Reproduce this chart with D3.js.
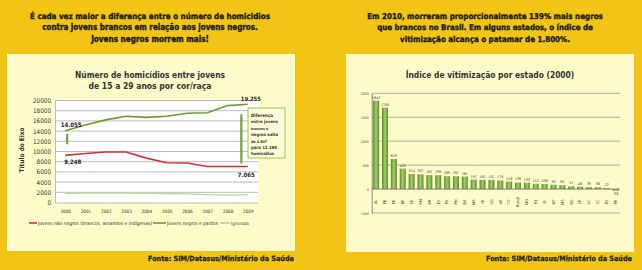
<!DOCTYPE html>
<html>
<head>
<meta charset="utf-8">
<script src="https://cdn.jsdelivr.net/npm/d3@7"></script>
<style>
  html, body { margin: 0; padding: 0; background: #f2c414; }
  svg { display: block; }
</style>
</head>
<body>
<script>
// left chart data
var years = [2000, 2001, 2002, 2003, 2004, 2005, 2006, 2007, 2008, 2009];
var naoNegros = [9248, 9600, 9900, 9900, 8700, 7800, 7750, 7050, 7050, 7065];
var negros = [14055, 15200, 16200, 16900, 16700, 16900, 17500, 17600, 19000, 19255];
var ignorado = [1800, 1850, 1850, 1850, 1800, 1750, 1700, 1550, 1450, 1550];
var leftTicks = [0, 2000, 4000, 6000, 8000, 10000, 12000, 14000, 16000, 18000, 20000];

// right chart data
var estados = ["AL", "PB", "PE", "DF", "SE", "AM", "RR", "ES", "PA", "RN", "BA", "MA", "CE", "GO",
    "AP", "TO", "Brasil", "MG", "RJ", "PI", "MT", "MS", "RO", "SP", "AC", "SC", "RS", "PR"];
var indice = [1847, 1700, 629, 428, 314, 307, 292, 289, 269, 267, 261, 197, 192, 192,
    179, 156, 138, 133, 112, 106, 90, 80, 57, 48, 39, 36, 22, -36];
var rightTicks = [-500, 0, 500, 1000, 1500, 2000];

var width = 642, height = 270;
var cream = '#fffcc9';
var headFont = '"Liberation Sans Narrow", "DejaVu Sans Condensed", sans-serif';
var bodyFont = '"DejaVu Sans Condensed", "DejaVu Sans", sans-serif';

var svg = d3.select('body').append('svg')
    .attr('width', width)
    .attr('height', height);

svg.append('rect').attr('width', width).attr('height', height).attr('fill', '#f2c414');

// gradient for the bars
var grad = svg.append('defs').append('linearGradient')
    .attr('id', 'barGrad').attr('x1', '0%').attr('x2', '100%').attr('y1', '0%').attr('y2', '0%');
grad.append('stop').attr('offset', '0%').attr('stop-color', '#5a8a2a');
grad.append('stop').attr('offset', '50%').attr('stop-color', '#a6cf6c');
grad.append('stop').attr('offset', '100%').attr('stop-color', '#5a8a2a');

// text whose font size is adjusted so it is about w wide
function fitText(g, txt, x, y, w, size, weight, family, color, anchor) {
    var t = g.append('text')
        .attr('x', x).attr('y', y)
        .attr('text-anchor', anchor || 'middle')
        .attr('font-family', family)
        .attr('font-weight', weight)
        .attr('font-size', size)
        .attr('fill', color)
        .text(txt);
    var len = t.node().getComputedTextLength();
    if (len > 0) t.attr('font-size', (size * w / len).toFixed(2));
    return t;
}

// headers
var headLeft = ["É cada vez maior a diferença entre o número de homicidios",
    "contra jovens brancos em relação aos jovens negros.",
    "Jovens negros morrem mais!"];
var headLeftW = [240, 216, 118];
headLeft.forEach(function (t, i) {
    fitText(svg, t, 150, 18.5 + i * 11.7, headLeftW[i], 10.5, 'bold', headFont, '#1e1e1e')
        .attr('stroke', '#1e1e1e').attr('stroke-width', 0.35);
});
var headRight = ["Em 2010, morreram proporcionalmente 139% mais negros",
    "que brancos no Brasil. Em alguns estados, o índice de",
    "vitimização alcança o patamar de 1.800%."];
var headRightW = [236, 216, 170];
headRight.forEach(function (t, i) {
    fitText(svg, t, 485, 18.5 + i * 11.7, headRightW[i], 10.5, 'bold', headFont, '#1e1e1e')
        .attr('stroke', '#1e1e1e').attr('stroke-width', 0.35);
});

// panels
svg.append('rect').attr('x', 7).attr('y', 54).attr('width', 288).attr('height', 197).attr('fill', cream);
svg.append('rect').attr('x', 346).attr('y', 54).attr('width', 288).attr('height', 198).attr('fill', cream);

fitText(svg, 'Fonte: SIM/Datasus/Ministério da Saúde', 294, 261, 146, 8.5, 'bold', headFont, '#262626', 'end')
    .attr('stroke', '#262626').attr('stroke-width', 0.25);
fitText(svg, 'Fonte: SIM/Datasus/Ministério da Saúde', 632, 261, 146, 8.5, 'bold', headFont, '#262626', 'end')
    .attr('stroke', '#262626').attr('stroke-width', 0.25);

// ---------------- left chart ----------------
var L = svg.append('g');

fitText(L, 'Número de homicídios entre jovens', 150, 78, 150, 10, 'bold', bodyFont, '#333');
fitText(L, 'de 15 a 29 anos por cor/raça', 150, 89, 123, 10, 'bold', bodyFont, '#333');

var lx = d3.scalePoint().domain(years).range([55, 258]).padding(0.5);
var ly = d3.scaleLinear().domain([0, 20000]).range([202.5, 100.5]);

L.append('rect').attr('x', 55).attr('y', 100.5).attr('width', 203).attr('height', 102).attr('fill', '#ffffff');

L.append('g').selectAll('line').data(leftTicks.slice(1)).join('line')
    .attr('x1', 55).attr('x2', 258)
    .attr('y1', function (d) { return ly(d); }).attr('y2', function (d) { return ly(d); })
    .attr('stroke', '#bdbdbd').attr('stroke-width', 1);

var lAxisY = L.append('g')
    .attr('transform', 'translate(55,0)')
    .call(d3.axisLeft(ly).tickValues(leftTicks).tickSize(0).tickPadding(4).tickFormat(d3.format('d')));
lAxisY.select('.domain').attr('stroke', '#bdbdbd');
lAxisY.selectAll('text').attr('font-family', bodyFont).attr('font-size', 6.3).attr('fill', '#333');

var lAxisX = L.append('g')
    .attr('transform', 'translate(0,202.5)')
    .call(d3.axisBottom(lx).tickSize(0).tickPadding(7));
lAxisX.select('.domain').attr('stroke', '#bdbdbd');
lAxisX.selectAll('text').attr('font-family', bodyFont).attr('font-size', 4.6).attr('fill', '#333');

L.append('text')
    .attr('transform', 'translate(24,150) rotate(-90)')
    .attr('text-anchor', 'middle')
    .attr('font-family', bodyFont).attr('font-weight', 'bold').attr('font-size', 6.5)
    .attr('fill', '#333')
    .text('Título do Eixo');

var line = d3.line()
    .x(function (d, i) { return lx(years[i]); })
    .y(function (d) { return ly(d); });

var series = [
    { name: 'Jovens não negros (brancos, amarelos e indígenas)', values: naoNegros, color: '#d0343a', w: 1.6 },
    { name: 'Jovens negros e pardos', values: negros, color: '#6e9a34', w: 1.6 },
    { name: 'Ignorado', values: ignorado, color: '#bdd69a', w: 1.4 }
];

L.append('g').selectAll('path').data(series).join('path')
    .attr('d', function (d) { return line(d.values); })
    .attr('fill', 'none')
    .attr('stroke', function (d) { return d.color; })
    .attr('stroke-width', function (d) { return d.w; });

// difference bars
var first = 0, last = years.length - 1;
L.append('line')
    .attr('x1', lx(years[first]) + 2).attr('x2', lx(years[first]) + 2)
    .attr('y1', ly(negros[first]) + 3).attr('y2', ly(naoNegros[first]) - 11)
    .attr('stroke', '#72a33c').attr('stroke-width', 2.2);
L.append('line')
    .attr('x1', lx(years[last]) - 6.5).attr('x2', lx(years[last]) - 6.5)
    .attr('y1', ly(negros[last]) + 10).attr('y2', ly(naoNegros[last]) - 3)
    .attr('stroke', '#72a33c').attr('stroke-width', 2.2);

// value labels
function valLabel(txt, x, y, w) {
    fitText(L, txt, x, y, w, 6.8, 'bold', bodyFont, '#222');
}
valLabel('14.055', lx(years[first]) + 6, ly(negros[first]) - 4, 21);
valLabel('9.248', lx(years[first]) + 7.5, ly(naoNegros[first]) + 9, 17);
valLabel('19.255', lx(years[last]) + 3, ly(negros[last]) - 3.5, 20);
valLabel('7.065', lx(years[last]) - 1.5, ly(naoNegros[last]) + 11, 17);

// annotation box
var note = ['Diferença', 'entre  jovens', 'brancos e', 'negros salta', 'de 4.807', 'para 12.190', 'homicídios'];
var noteW = [22, 27, 17, 27, 16, 26, 23];
L.append('rect').attr('x', 248).attr('y', 108).attr('width', 37).attr('height', 50)
    .attr('fill', '#fffdd8').attr('stroke', '#9bc25b').attr('stroke-width', 1);
note.forEach(function (t, i) {
    fitText(L, t, 251, 117 + i * 6.4, noteW[i], 5.4, 'bold', bodyFont, '#333', 'start');
});

// legend
var legX = [29, 153, 220], legLen = [8, 13, 10], legTextW = [114, 51, 18];
var leg = L.append('g').selectAll('g').data(series).join('g');
leg.append('line')
    .attr('x1', function (d, i) { return legX[i]; })
    .attr('x2', function (d, i) { return legX[i] + legLen[i]; })
    .attr('y1', 223).attr('y2', 223)
    .attr('stroke', function (d) { return d.color; }).attr('stroke-width', 1.6);
leg.each(function (d, i) {
    fitText(d3.select(this), d.name, legX[i] + legLen[i] + 1, 224.7, legTextW[i], 4.6, 'normal', bodyFont, '#333', 'start');
});

// ---------------- right chart ----------------
var R = svg.append('g');

fitText(R, 'Índice de vitimização por estado (2000)', 490, 78, 169, 10, 'bold', bodyFont, '#333');

var rx = d3.scaleBand().domain(estados).range([371.7, 620]).paddingInner(0.32).paddingOuter(0.16);
var ry = d3.scaleLinear().domain([-500, 2000]).range([213, 93.3]);

R.append('g').selectAll('line').data(rightTicks.filter(function (d) { return d !== 0; })).join('line')
    .attr('x1', 371.7).attr('x2', 620)
    .attr('y1', function (d) { return ry(d); }).attr('y2', function (d) { return ry(d); })
    .attr('stroke', '#a8a8a0').attr('stroke-width', 0.9);

var rAxisY = R.append('g')
    .attr('transform', 'translate(371.7,0)')
    .call(d3.axisLeft(ry).tickValues(rightTicks).tickSize(0).tickPadding(3).tickFormat(d3.format('d')));
rAxisY.select('.domain').attr('stroke', '#8a8a80');
rAxisY.selectAll('text').attr('font-family', bodyFont).attr('font-size', 3.6).attr('fill', '#444');

R.append('g').selectAll('rect').data(indice).join('rect')
    .attr('x', function (d, i) { return rx(estados[i]); })
    .attr('y', function (d) { return ry(Math.max(d, 0)); })
    .attr('width', rx.bandwidth())
    .attr('height', function (d) { return Math.abs(ry(d) - ry(0)); })
    .attr('fill', 'url(#barGrad)');

R.append('line').attr('x1', 371.7).attr('x2', 620).attr('y1', ry(0)).attr('y2', ry(0))
    .attr('stroke', '#6f6f68').attr('stroke-width', 0.9);

R.append('g').selectAll('text').data(indice).join('text')
    .attr('x', function (d, i) { return rx(estados[i]) + rx.bandwidth() / 2; })
    .attr('y', function (d) { return d >= 0 ? ry(d) - 2 : ry(d) + 4.5; })
    .attr('text-anchor', 'middle')
    .attr('font-family', bodyFont).attr('font-size', 3.6).attr('fill', '#444')
    .text(function (d) { return d; });

R.append('g').selectAll('text').data(estados).join('text')
    .attr('transform', function (d) {
        return 'translate(' + (rx(d) + rx.bandwidth() / 2 + 1.3) + ',202) rotate(-90)';
    })
    .attr('text-anchor', 'middle')
    .attr('font-family', bodyFont).attr('font-size', 3.9).attr('fill', '#444')
    .text(function (d) { return d; });
</script>
</body>
</html>
